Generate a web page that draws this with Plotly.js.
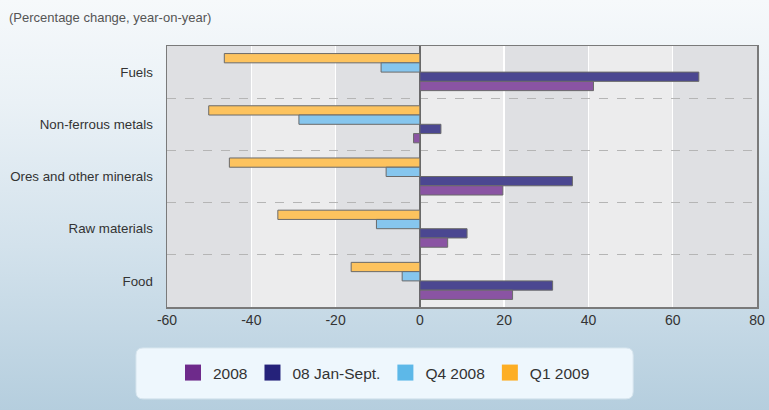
<!DOCTYPE html>
<html>
<head>
<meta charset="utf-8">
<script src="https://cdn.plot.ly/plotly-3.0.1.min.js"></script>
<style>
html,body{margin:0;padding:0;}
body{width:769px;height:410px;background:linear-gradient(to bottom,#f6f9fb 0%,#eaf1f6 25%,#d3e2ec 60%,#b5cede 100%);}
#chart{width:769px;height:410px;}
</style>
</head>
<body>
<div id="chart"></div>
<script>
var categories = ["Fuels", "Non-ferrous metals", "Ores and other minerals", "Raw materials", "Food"];
var seriesNames = ["Q1 2009", "Q4 2008", "08 Jan-Sept.", "2008"];
var q1_2009   = [-46.4, -50.1, -45.2, -33.7, -16.3];
var q4_2008   = [-9.2, -28.7, -8.0, -10.3, -4.2];
var jan_sept08 = [66.2, 5.0, 36.2, 11.2, 31.5];
var y2008     = [41.2, -1.5, 19.7, 6.6, 22.0];
var xTicks = [-60, -40, -20, 0, 20, 40, 60, 80];

var barColors = {"Q1 2009":"#fdc35e","Q4 2008":"#86c6ee","08 Jan-Sept.":"#4b4791","2008":"#8a54a3"};
var legendColors = {"2008":"#6e2a8b","08 Jan-Sept.":"#25227a","Q4 2008":"#5db8e8","Q1 2009":"#fdae24"};
var values = {"Q1 2009":q1_2009,"Q4 2008":q4_2008,"08 Jan-Sept.":jan_sept08,"2008":y2008};

var traces = [];
seriesNames.forEach(function(n){
  traces.push({type:"bar", orientation:"h", name:n, y:categories, x:values[n],
    marker:{color:barColors[n], line:{color:"#6a6a6a", width:1}},
    showlegend:false, hoverinfo:"x+name"});
});
["2008","08 Jan-Sept.","Q4 2008","Q1 2009"].forEach(function(n){
  traces.push({type:"scatter", mode:"markers", name:n, y:[null], x:[null], xaxis:"x2", yaxis:"y2",
    marker:{color:legendColors[n], symbol:"square", size:16, line:{width:0}}, showlegend:true, hoverinfo:"skip"});
});

var shapes = [];
for (var i = 0; i < xTicks.length - 1; i += 2) {
  shapes.push({type:"rect", layer:"below", xref:"x", yref:"paper", x0:xTicks[i], x1:xTicks[i+1], y0:0, y1:1,
    fillcolor:"#dfe0e3", line:{width:0}});
}
// legend rounded box
var rx = 7/590, ry = 7/261;
var bx0 = -0.0525, bx1 = 0.79, by0 = -0.352, by1 = -0.157;
shapes.push({type:"path", xref:"paper", yref:"paper", layer:"below",
  path:"M "+(bx0+rx)+","+by1+" L "+(bx1-rx)+","+by1+" Q "+bx1+","+by1+" "+bx1+","+(by1-ry)+
       " L "+bx1+","+(by0+ry)+" Q "+bx1+","+by0+" "+(bx1-rx)+","+by0+
       " L "+(bx0+rx)+","+by0+" Q "+bx0+","+by0+" "+bx0+","+(by0+ry)+
       " L "+bx0+","+(by1-ry)+" Q "+bx0+","+by1+" "+(bx0+rx)+","+by1+" Z",
  fillcolor:"#eef7fd", line:{color:"#d8e6ef", width:1}});

var layout = {
  width:769, height:410,
  margin:{l:167, r:12, t:46, b:103},
  paper_bgcolor:"rgba(0,0,0,0)",
  plot_bgcolor:"#ececed",
  font:{family:"Arial, 'Liberation Sans', sans-serif", color:"#333333", size:14},
  title:{text:"(Percentage change, year-on-year)", xref:"container", yref:"container",
    x:9/769, xanchor:"left", y:1-17/410, yanchor:"middle", font:{size:13, color:"#555555"}},
  barmode:"group", bargap:0.29, bargroupgap:0,
  xaxis:{range:[-60,80], tickvals:xTicks, ticktext:xTicks.map(String), showgrid:true, gridcolor:"#ffffff", gridwidth:1.5,
    zeroline:true, zerolinecolor:"#6a6a6a", zerolinewidth:1.5,
    showline:true, mirror:true, linecolor:"#7a7a7a", linewidth:1.5, ticks:"", fixedrange:true,
    tickfont:{size:14, color:"#333333"}},
  yaxis:{type:"category", categoryorder:"array", categoryarray:categories, autorange:"reversed",
    showgrid:true, tickson:"boundaries", gridcolor:"#b5b5b5", griddash:"dash", gridwidth:1,
    showline:true, mirror:true, linecolor:"#7a7a7a", linewidth:1.5, ticks:"", ticklabelstandoff:10,
    tickfont:{size:13.3, color:"#333333"}, fixedrange:true},
  xaxis2:{overlaying:"x", visible:false, range:[0,1], fixedrange:true},
  yaxis2:{overlaying:"y", visible:false, range:[0,1], fixedrange:true},
  legend:{orientation:"h", xref:"container", yref:"container", x:384/769, xanchor:"center", y:1-373/410, yanchor:"middle",
    bgcolor:"rgba(0,0,0,0)", font:{size:15.5, color:"#333333"}, itemwidth:30, traceorder:"normal"},
  shapes:shapes
};
Plotly.newPlot("chart", traces, layout, {displayModeBar:false, staticPlot:true});
</script>
</body>
</html>
